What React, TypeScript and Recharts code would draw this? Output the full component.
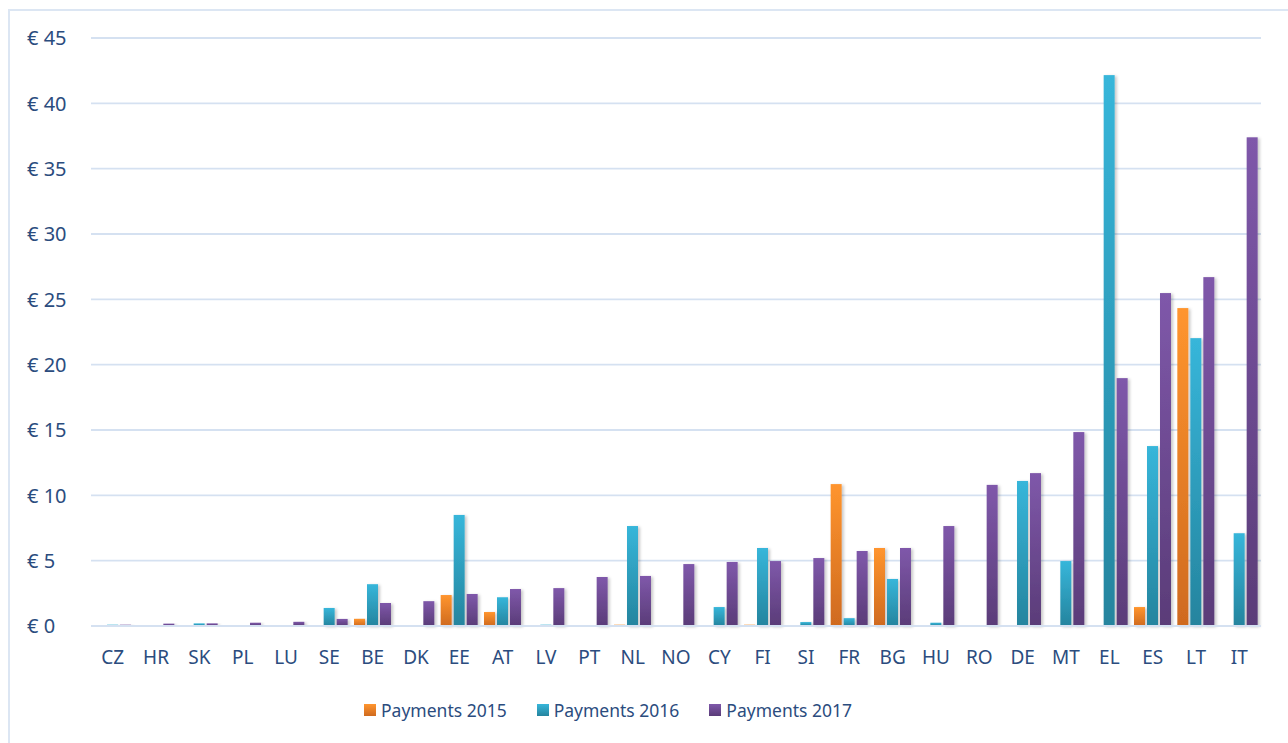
import React from "react";
import { BarChart, Bar, XAxis, YAxis, CartesianGrid } from "recharts";

// countries, left to right
const countries = [
  "CZ", "HR", "SK", "PL", "LU", "SE", "BE", "DK", "EE", "AT", "LV", "PT", "NL", "NO",
  "CY", "FI", "SI", "FR", "BG", "HU", "RO", "DE", "MT", "EL", "ES", "LT", "IT",
];

// € values
const payments2015 = [
  0, 0, 0, 0, 0, 0, 0.55, 0, 2.37, 1.07, 0, 0, 0.1, 0,
  0, 0.1, 0, 10.86, 5.97, 0, 0, 0, 0, 0, 1.45, 24.33, 0,
];
const payments2016 = [
  0.1, 0, 0.2, 0, 0, 1.38, 3.2, 0, 8.5, 2.2, 0.1, 0, 7.65, 0,
  1.45, 5.97, 0.3, 0.6, 3.6, 0.25, 0, 11.1, 4.97, 42.16, 13.77, 22.03, 7.1,
];
const payments2017 = [
  0.1, 0.18, 0.2, 0.25, 0.32, 0.54, 1.76, 1.9, 2.45, 2.83, 2.9, 3.75, 3.83, 4.74,
  4.9, 4.97, 5.2, 5.74, 5.97, 7.65, 10.8, 11.7, 14.84, 18.97, 25.48, 26.7, 37.4,
];

const yTicks = [0, 5, 10, 15, 20, 25, 30, 35, 40, 45];

const series = [
  { key: "p2015", name: "Payments 2015", top: "#FF952E", bottom: "#CF6A1F" },
  { key: "p2016", name: "Payments 2016", top: "#37B6DA", bottom: "#25849E" },
  { key: "p2017", name: "Payments 2017", top: "#7F58AA", bottom: "#5A3C78" },
];

const data = countries.map((c, i) => ({
  country: c,
  p2015: payments2015[i],
  p2016: payments2016[i],
  p2017: payments2017[i],
}));

const textColor = "#2B4C7E";
const gridColor = "#D5E1F1";
const font = "'Noto Sans', sans-serif";

const YTick = (props: any) => {
  const { y, payload } = props;
  return (
    <text x={27} y={y} dy="0.36em" textAnchor="start" fill={textColor} fontSize={20} fontFamily={font}>
      € {payload.value}
    </text>
  );
};

const XTick = (props: any) => {
  const { x, y, payload } = props;
  return (
    <text x={x} y={y} dy="0.71em" textAnchor="middle" fill={textColor} fontSize={19} fontFamily={font}>
      {payload.value}
    </text>
  );
};

const makeShape = (key: string) => (props: any) => {
  const { x, y, width, height } = props;
  if (!height || height <= 0) return <g />;
  return (
    <rect x={x} y={y} width={width} height={height} fill={`url(#grad-${key})`} filter="url(#barShadow)" />
  );
};

export default function App() {
  return (
    <div style={{ position: "absolute", left: 0, top: 0, width: 1288, height: 743, overflow: "hidden", background: "#fff" }}>
      <div
        style={{
          position: "absolute", left: 8, top: 9, width: 1320, height: 800,
          border: `2px solid #DCE6F3`, boxSizing: "border-box",
        }}
      />
      <div style={{ position: "absolute", left: 0, top: 0 }}>
        <BarChart
          width={1288}
          height={743}
          data={data}
          margin={{ top: 38, right: 27, bottom: 77, left: 11 }}
          barSize={11}
          barGap={2}
        >
          <defs>
            {series.map((s) => (
              <linearGradient key={s.key} id={`grad-${s.key}`} x1="0" y1="0" x2="0" y2="1">
                <stop offset="0%" stopColor={s.top} />
                <stop offset="100%" stopColor={s.bottom} />
              </linearGradient>
            ))}
            <filter id="barShadow" x="-50%" y="-10%" width="200%" height="130%">
              <feDropShadow dx="2" dy="1" stdDeviation="1.6" floodColor="#000" floodOpacity="0.22" />
            </filter>
          </defs>
          <CartesianGrid vertical={false} stroke={gridColor} strokeWidth={1.8} />
          <XAxis
            dataKey="country"
            height={40}
            tick={<XTick />}
            tickLine={false}
            tickSize={6}
            tickMargin={19}
            axisLine={{ stroke: gridColor, strokeWidth: 1.8 }}
            interval={0}
          />
          <YAxis
            width={80}
            domain={[0, 45]}
            ticks={yTicks}
            tick={<YTick />}
            axisLine={false}
            tickLine={false}
          />
          {series.map((s) => (
            <Bar key={s.key} dataKey={s.key} name={s.name} shape={makeShape(s.key)} isAnimationActive={false} />
          ))}
        </BarChart>
      </div>
      <div
        style={{
          position: "absolute", left: 364, top: 698, display: "flex", alignItems: "center",
          fontFamily: font, fontSize: 17.5, color: textColor,
        }}
      >
        {series.map((s) => (
          <div key={s.key} style={{ display: "flex", alignItems: "center", marginRight: 30 }}>
            <span
              style={{
                display: "inline-block", width: 12, height: 12, marginRight: 5,
                background: `linear-gradient(${s.top}, ${s.bottom})`,
              }}
            />
            <span>{s.name}</span>
          </div>
        ))}
      </div>
    </div>
  );
}
